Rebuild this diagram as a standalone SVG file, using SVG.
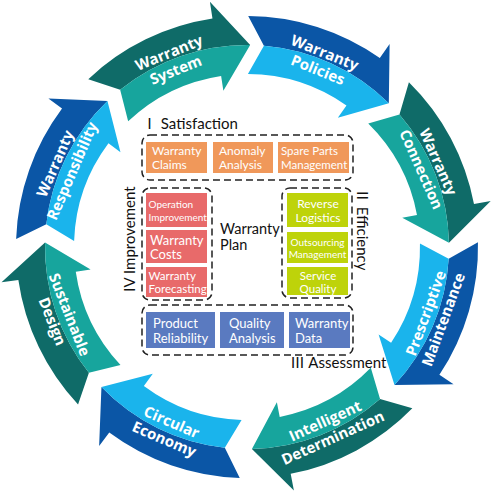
<svg xmlns="http://www.w3.org/2000/svg" xmlns:xlink="http://www.w3.org/1999/xlink" width="495" height="495" viewBox="0 0 495 495">
<style>
.tD{fill:#0f6b68}.tL{fill:#17a59d}.bD{fill:#0b56a6}.bL{fill:#1ab4ec}
.at{font-family:"Open Sans","DejaVu Sans",sans-serif;font-weight:bold;font-size:15px;fill:#fff;text-anchor:middle}
.bx{font-family:Lato,"Noto Sans","Noto Sans CJK SC",sans-serif;fill:#fff;font-size:12px}
.bxs{font-size:10px}
.lb{font-family:Lato,"Noto Sans","Noto Sans CJK SC",sans-serif;fill:#111;font-size:15px}
.dash{fill:none;stroke:#222;stroke-width:1.5;stroke-dasharray:7 4}
.or{fill:#f0985a}.rd{fill:#e86a6a}.gr{fill:#bed30a}.bl{fill:#5a7ac0}
.mid{text-anchor:middle}
</style>
<defs>
<path id="ao" d="M247,16 A231,231 0 0 1 378.84,57.31 L388.54,43.35 L388.08,102.43 A202,202 0 0 0 262.85,45.62 Z"/>
<path id="ai" d="M262.85,45.62 A202,202 0 0 1 388.08,102.43 L337.17,117.26 L345.73,104.94 A173,173 0 0 0 247,74 Z"/>
</defs>
<g id="arrow-system">
<g transform="rotate(-43.4 247 247)"><use href="#ao" class="tD"/><use href="#ai" class="tL"/></g>
<text class="at" transform="translate(172.4,61.4) rotate(-21.9)"><tspan x="0" y="-4">Warranty</tspan><tspan x="0" y="14.5">System</tspan></text>
</g>
<g id="arrow-policies">
<g transform="rotate(0.3 247 247)"><use href="#ao" class="bD"/><use href="#ai" class="bL"/></g>
<text class="at" transform="translate(321.3,61.3) rotate(21.8)"><tspan x="0" y="-4">Warranty</tspan><tspan x="0" y="14.5">Policies</tspan></text>
</g>
<g id="arrow-connection">
<g transform="rotate(44.5 247 247)"><use href="#ao" class="tD"/><use href="#ai" class="tL"/></g>
<text class="at" transform="translate(429.7,165.7) rotate(66)"><tspan x="0" y="-4">Warranty</tspan><tspan x="0" y="14.5">Connection</tspan></text>
</g>
<g id="arrow-prescriptive">
<g transform="rotate(88.8 247 247)"><use href="#ao" class="bD"/><use href="#ai" class="bL"/></g>
<text class="at" transform="translate(434.6,316.4) rotate(-69.7)"><tspan x="0" y="-4">Prescriptive</tspan><tspan x="0" y="14.5">Maintenance</tspan></text>
</g>
<g id="arrow-intelligent">
<g transform="rotate(134.3 247 247)"><use href="#ao" class="tD"/><use href="#ai" class="tL"/></g>
<text class="at" transform="translate(329,429.4) rotate(-24.2)"><tspan x="0" y="-4">Intelligent</tspan><tspan x="0" y="14.5">Determination</tspan></text>
</g>
<g id="arrow-circular">
<g transform="rotate(181.8 247 247)"><use href="#ao" class="bD"/><use href="#ai" class="bL"/></g>
<text class="at" transform="translate(167.9,430.7) rotate(23.3)"><tspan x="0" y="-4">Circular</tspan><tspan x="0" y="14.5">Economy</tspan></text>
</g>
<g id="arrow-sustainable">
<g transform="rotate(227 247 247)"><use href="#ao" class="tD"/><use href="#ai" class="tL"/></g>
<text class="at" transform="translate(60.9,318) rotate(68.5)"><tspan x="0" y="-4">Sustainable</tspan><tspan x="0" y="14.5">Design</tspan></text>
</g>
<g id="arrow-responsibility">
<g transform="rotate(272 247 247)"><use href="#ao" class="bD"/><use href="#ai" class="bL"/></g>
<text class="at" transform="translate(63.6,167.3) rotate(-66.5)"><tspan x="0" y="-4">Warranty</tspan><tspan x="0" y="14.5">Responsibility</tspan></text>
</g>

<g id="satisfaction">
<text class="lb" x="142" y="129">Ⅰ Satisfaction</text>
<rect class="dash" x="142" y="135" width="211" height="45" rx="8"/>
<g id="warranty-claims"><rect class="or" x="146" y="142" width="61" height="31"/><text class="bx"><tspan x="152" y="155">Warranty</tspan><tspan x="152" y="168.5">Claims</tspan></text></g>
<g id="anomaly-analysis"><rect class="or" x="213" y="142" width="60" height="31"/><text class="bx"><tspan x="219" y="155">Anomaly</tspan><tspan x="219" y="168.5">Analysis</tspan></text></g>
<g id="spare-parts"><rect class="or" x="278" y="142" width="71" height="31"/><text class="bx" style="font-size:11.5px"><tspan x="281" y="155">Spare Parts</tspan><tspan x="281" y="168.5">Management</tspan></text></g>
</g>

<g id="improvement">
<text class="lb mid" transform="translate(135,239) rotate(-90)" x="0" y="0">IV Improvement</text>
<rect class="dash" x="142" y="188" width="70" height="112" rx="8"/>
<g id="operation-improvement"><rect class="rd" x="146" y="193" width="61" height="34"/><text class="bx bxs"><tspan x="148.5" y="208">Operation</tspan><tspan x="148.5" y="220.5">Improvement</tspan></text></g>
<g id="warranty-costs"><rect class="rd" x="146" y="230" width="61" height="33"/><text class="bx" style="font-size:13px"><tspan x="150" y="244.5">Warranty</tspan><tspan x="150" y="259">Costs</tspan></text></g>
<g id="warranty-forecasting"><rect class="rd" x="146" y="267" width="61" height="30"/><text class="bx" style="font-size:11.5px"><tspan x="148.5" y="280">Warranty</tspan><tspan x="148.5" y="293">Forecasting</tspan></text></g>
</g>

<g id="warranty-plan">
<text class="lb" style="font-size:14.5px"><tspan x="220" y="234">Warranty</tspan><tspan x="220" y="250">Plan</tspan></text>
</g>

<g id="efficiency">
<text class="lb" transform="translate(357,188) rotate(90)" x="0" y="0">Ⅱ Efficiency</text>
<rect class="dash" x="282" y="188" width="70" height="110" rx="8"/>
<g id="reverse-logistics"><rect class="gr" x="287" y="193" width="61" height="34"/><text class="bx mid"><tspan x="318" y="208">Reverse</tspan><tspan x="318" y="221.5">Logistics</tspan></text></g>
<g id="outsourcing-management"><rect class="gr" x="287" y="232" width="61" height="31"/><text class="bx bxs mid"><tspan x="317.5" y="245.5">Outsourcing</tspan><tspan x="317.5" y="258">Management</tspan></text></g>
<g id="service-quality"><rect class="gr" x="287" y="267" width="61" height="28"/><text class="bx mid" style="font-size:11.5px"><tspan x="318" y="279.5">Service</tspan><tspan x="318" y="292.5">Quality</tspan></text></g>
</g>

<g id="assessment">
<rect class="dash" x="142" y="305" width="211" height="50" rx="8"/>
<text class="lb" x="290" y="368">Ⅲ Assessment</text>
<g id="product-reliability"><rect class="bl" x="146" y="312" width="69" height="36"/><text class="bx" style="font-size:13px"><tspan x="153" y="328">Product</tspan><tspan x="153" y="343">Reliability</tspan></text></g>
<g id="quality-analysis"><rect class="bl" x="220" y="312" width="64" height="36"/><text class="bx" style="font-size:13px"><tspan x="229" y="328">Quality</tspan><tspan x="229" y="343">Analysis</tspan></text></g>
<g id="warranty-data"><rect class="bl" x="289" y="312" width="61" height="36"/><text class="bx" style="font-size:13px"><tspan x="295" y="328">Warranty</tspan><tspan x="295" y="343">Data</tspan></text></g>
</g>
<g id="connectors"/>
</svg>
